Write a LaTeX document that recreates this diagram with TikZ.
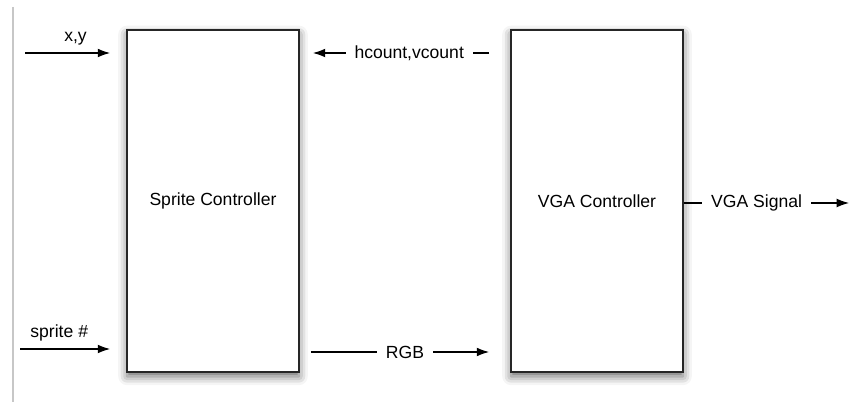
\documentclass[tikz,border=0pt]{standalone}
\usepackage{fontspec}
\setmainfont{Liberation Sans}
\usetikzlibrary{positioning,arrows.meta,shadows.blur,calc}

\begin{document}
\begin{tikzpicture}[x=0.02cm,y=-0.02cm,font=\fontsize{10}{12}\selectfont,
    block/.style={draw=black!85,line width=1.1pt,fill=white,
        minimum width=3.44cm,minimum height=6.84cm,
        blur shadow={shadow xshift=0pt,shadow yshift=-2.5pt,shadow blur radius=5pt,shadow opacity=60}},
    sig/.style={-{Latex[length=7pt,width=5pt]},line width=0.6pt},
    lbl/.style={fill=white,inner xsep=5pt,inner ysep=1pt}]
    \useasboundingbox (0,0) rectangle (853,402);
    \draw[black!22,line width=1pt] (13,7)--(13,402);
    \node[block] (sprite) at (213,201) {Sprite Controller};
    \node[block] (vga) at (597,201) {VGA Controller};
    \coordinate (xyin) at (25,53);
    \coordinate (spin) at (20,349);
    \coordinate (rgb) at (0,352);
    \coordinate (vgaout) at (849,203);
    \draw[sig,shorten >=0.32cm] (xyin)--(sprite.west |- xyin) node[midway,above=1pt]{x,y};
    \draw[sig,shorten >=0.32cm] (spin)--(sprite.west |- spin) node[pos=0.37,above=1pt]{sprite \#};
    \draw[sig,shorten <=0.42cm,shorten >=0.26cm] (vga.west |- xyin)--(sprite.east |- xyin)
        node[lbl,pos=0.48]{hcount,vcount};
    \draw[sig,shorten <=0.22cm,shorten >=0.42cm] (sprite.east |- rgb)--(vga.west |- rgb)
        node[lbl,midway]{RGB};
    \draw[sig] (vga.east |- vgaout)--(vgaout);
    \node[lbl] (vgasig) at ($(vga.east |- vgaout)!0.44!(vgaout)$) {VGA Signal};
\end{tikzpicture}
\end{document}
